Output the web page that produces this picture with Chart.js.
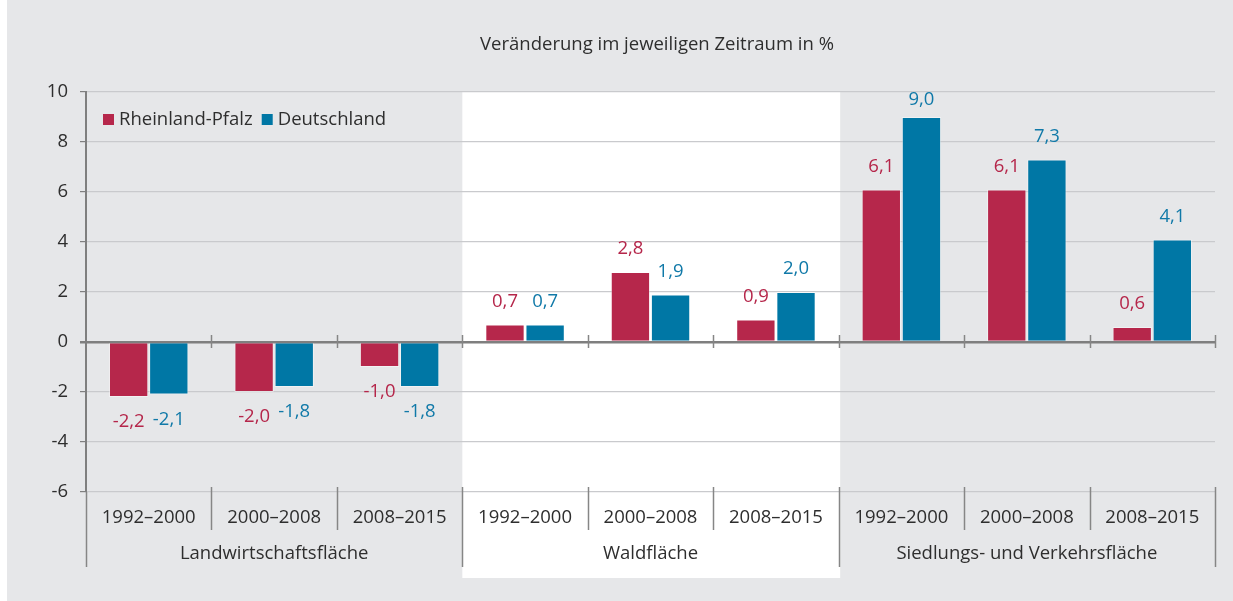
<!DOCTYPE html>
<html lang="de">
<head>
  <meta charset="UTF-8" />
  <title>Flächennutzung</title>
  <script src="https://cdn.jsdelivr.net/npm/chart.js"></script>
  <style>
    body {
      margin: 0;
      background: #ffffff;
    }
    .wrap {
      width: 1233px;
      height: 601px;
    }
  </style>
</head>
<body>
  <div class="wrap"><canvas id="chart"></canvas></div>

  <script>
    const periods = ['1992–2000', '2000–2008', '2008–2015'];
    const groups = ['Landwirtschaftsfläche', 'Waldfläche', 'Siedlungs- und Verkehrsfläche'];
    const rheinlandPfalz = [-2.2, -2.0, -1.0, 0.7, 2.8, 0.9, 6.1, 6.1, 0.6];
    const deutschland = [-2.1, -1.8, -1.8, 0.7, 1.9, 2.0, 9.0, 7.3, 4.1];
    const yTicks = [-6, -4, -2, 0, 2, 4, 6, 8, 10];

    const categories = [];
    groups.forEach((g, gi) => periods.forEach((p, pi) => categories.push(g + ' ' + p)));

    const RED = '#b6274b';
    const BLUE = '#0077a5';
    const TEXT = '#2e2e2e';
    const FONT = '"Open Sans", sans-serif';
    const FS = 18.5;

    const fmt = v => v.toFixed(1).replace('.', ',');

    const decor = {
      id: 'decor',
      beforeDraw(chart) {
        const { ctx, chartArea, scales } = chart;
        const x = scales.x;
        const w = x.getPixelForValue(1) - x.getPixelForValue(0);
        ctx.save();
        ctx.fillStyle = '#e6e7e9';
        ctx.fillRect(7, 0, chart.width - 7, chart.height);
        // white panel behind Waldfläche
        const l = x.getPixelForValue(3) - w / 2;
        const r = x.getPixelForValue(5) + w / 2 + 1.5;
        ctx.fillStyle = '#ffffff';
        ctx.fillRect(l, chartArea.top, r - l, chartArea.bottom + 86 - chartArea.top);
        // title
        ctx.fillStyle = TEXT;
        ctx.font = FS + 'px ' + FONT;
        ctx.textAlign = 'center';
        ctx.textBaseline = 'middle';
        ctx.fillText('Veränderung im jeweiligen Zeitraum in %', 657, 45);
        ctx.restore();
      },
      afterDatasetsDraw(chart) {
        const { ctx, chartArea } = chart;
        ctx.save();
        ctx.font = FS + 'px ' + FONT;
        ctx.textAlign = 'center';
        ctx.textBaseline = 'middle';
        chart.data.datasets.forEach((ds, di) => {
          const meta = chart.getDatasetMeta(di);
          ctx.fillStyle = ds.labelColor;
          meta.data.forEach((bar, i) => {
            const v = ds.data[i];
            let ty = v >= 0 ? bar.y - 23 : bar.y + 25;
            ty = Math.max(ty, chartArea.top + 8);
            ctx.fillText(fmt(v), bar.x, ty);
          });
        });
        ctx.restore();
      },
      afterDraw(chart) {
        const { ctx, chartArea, scales } = chart;
        const x = scales.x, y = scales.y;
        const w = x.getPixelForValue(1) - x.getPixelForValue(0);
        const zero = y.getPixelForValue(0);
        const bottom = chartArea.bottom;
        ctx.save();
        ctx.strokeStyle = '#868686';
        ctx.lineWidth = 1.5;
        for (let i = 0; i <= categories.length; i++) {
          const bx = Math.round(chartArea.left + i * w) + 0.5;
          // ticks on zero line
          if (i > 0) {
            ctx.beginPath();
            ctx.moveTo(bx, zero - 7);
            ctx.lineTo(bx, zero + 6);
            ctx.stroke();
          }
          const isGroup = i % 3 === 0;
          ctx.beginPath();
          ctx.moveTo(bx, i === 0 ? bottom : bottom - 5);
          ctx.lineTo(bx, isGroup ? bottom + 75 : bottom + 38);
          ctx.stroke();
        }
        ctx.fillStyle = TEXT;
        ctx.font = FS + 'px ' + FONT;
        ctx.textAlign = 'center';
        ctx.textBaseline = 'middle';
        categories.forEach((c, i) => {
          ctx.fillText(periods[i % 3], x.getPixelForValue(i), bottom + 26);
        });
        groups.forEach((g, gi) => {
          ctx.fillText(g, x.getPixelForValue(gi * 3 + 1), bottom + 62);
        });
        // legend
        const ly = 119.5;
        let lx = 103;
        ctx.textAlign = 'left';
        chart.data.datasets.forEach(ds => {
          ctx.fillStyle = ds.backgroundColor;
          ctx.fillRect(lx, ly - 5.5, 11, 11);
          ctx.fillStyle = TEXT;
          ctx.fillText(ds.label, lx + 16, ly);
          lx += 16 + ctx.measureText(ds.label).width + 9;
        });
        ctx.restore();
      }
    };

    new Chart(document.getElementById('chart').getContext('2d'), {
      type: 'bar',
      data: {
        labels: categories,
        datasets: [
          {
            label: 'Rheinland-Pfalz',
            data: rheinlandPfalz,
            backgroundColor: RED,
            labelColor: '#b5264a',
            borderColor: 'rgba(255,255,255,0.45)',
            borderWidth: 1
          },
          {
            label: 'Deutschland',
            data: deutschland,
            backgroundColor: BLUE,
            labelColor: '#1079a8',
            borderColor: 'rgba(255,255,255,0.45)',
            borderWidth: 1
          }
        ]
      },
      options: {
        responsive: true,
        maintainAspectRatio: false,
        animation: false,
        categoryPercentage: 0.64,
        barPercentage: 0.98,
        layout: { padding: { top: 92, right: 18, bottom: 0, left: 0 } },
        plugins: {
          legend: { display: false },
          tooltip: { enabled: false }
        },
        scales: {
          x: {
            grid: { display: false },
            border: { display: false },
            ticks: { display: false },
            afterFit: s => { s.height = 109; }
          },
          y: {
            min: yTicks[0],
            max: yTicks[yTicks.length - 1],
            afterBuildTicks: s => { s.ticks = yTicks.map(v => ({ value: v })); },
            ticks: {
              color: TEXT,
              font: { family: FONT, size: FS },
              padding: 12,
              callback: v => String(v)
            },
            grid: {
              color: c => c.tick && c.tick.value === 0 ? '#7f7f7f' : '#c9cacd',
              lineWidth: c => c.tick && c.tick.value === 0 ? 2.5 : 1.2,
              tickColor: '#7f7f7f',
              tickLength: 6
            },
            border: { color: '#7f7f7f', width: 2 },
            afterFit: s => { s.width = 86; }
          }
        }
      },
      plugins: [decor]
    });
  </script>
</body>
</html>
